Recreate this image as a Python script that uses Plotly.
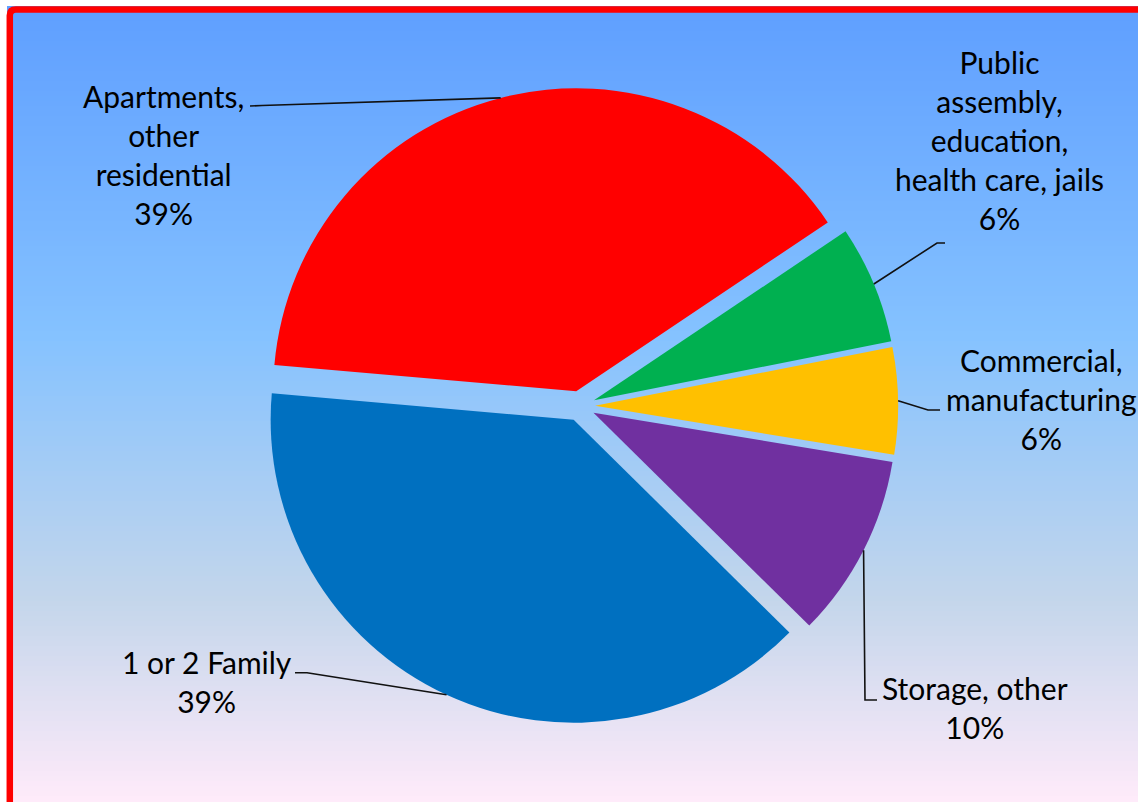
import math
import plotly.graph_objects as go

# ---------------- data ----------------
categories = [
    "Apartments, other residential",
    "Public assembly, education, health care, jails",
    "Commercial, manufacturing",
    "Storage, other",
    "1 or 2 Family",
]
label_texts = [
    "Apartments,<br>other<br>residential",
    "Public<br>assembly,<br>education,<br>health care, jails",
    "Commercial,<br>manufacturing",
    "Storage, other",
    "1 or 2 Family",
]
values = [39.2, 6.3, 5.7, 9.8, 39.0]
colors = ["#FF0000", "#00B050", "#FFC000", "#7030A0", "#0070C0"]

# ---------------- layout parameters (pixels) ----------------
W, H = 1138, 802
CX, CY, R, PULL = 580, 406, 303, 0.05
ROTATION = -85
FONT = "Lato"
FS = 30

# label block centres and leader elbows (elbow, end near text)
label_centres = [(164, 154), (999, 139.5), (1041, 398.5), (975, 707.5), (207, 681)]
leader_elbows = [
    ((262, 105.5), (250, 106)),
    ((937, 243), (945, 243)),
    ((928, 410), (940, 410)),
    ((865, 700), (877, 700)),
    ((307, 672.7), (295, 672.7)),
]

# gradient stops (fraction of height, rgb)
grad_stops = [
    (0.00, (94, 158, 255)),
    (0.42, (133, 194, 255)),
    (0.75, (196, 214, 235)),
    (1.00, (255, 235, 250)),
]


def px(x):
    return x / W


def py(y):
    return 1 - y / H


def grad_color(t):
    for (t0, c0), (t1, c1) in zip(grad_stops[:-1], grad_stops[1:]):
        if t <= t1:
            f = (t - t0) / (t1 - t0) if t1 > t0 else 0
            c = [round(a + (b - a) * f) for a, b in zip(c0, c1)]
            return "rgb(%d,%d,%d)" % tuple(c)
    return "rgb(%d,%d,%d)" % grad_stops[-1][1]


total = sum(values)
pct_labels = [f"{round(v / total * 100)}%" for v in values]

side = 2 * R * (1 + PULL)
domain_x = [px(CX - side / 2), px(CX + side / 2)]
domain_y = [py(CY + side / 2), py(CY - side / 2)]

fig = go.Figure(
    go.Pie(
        labels=categories,
        values=values,
        sort=False,
        direction="clockwise",
        rotation=ROTATION,
        pull=[PULL] * len(values),
        marker=dict(colors=colors, line=dict(width=0)),
        textinfo="none",
        hoverinfo="label+percent",
        showlegend=False,
        domain=dict(x=domain_x, y=domain_y),
    )
)

shapes = []
# background gradient strips
top, bottom, left = 6, 806, 7
n = 160
step = (bottom - top) / n
for i in range(n):
    y0 = top + i * step
    y1 = y0 + step + 1
    t = (y0 + step / 2) / H
    shapes.append(
        dict(
            type="rect", xref="paper", yref="paper", layer="below",
            x0=px(left), x1=px(W + 5), y0=py(min(y1, 810)), y1=py(y0),
            fillcolor=grad_color(min(t, 1)), line=dict(width=0),
        )
    )

# red frame with rounded top-left corner
fx0, fy0, fx1, fy1, rc = 9.8, 9.6, W + 10, 807, 6
frame_path = (
    f"M {px(fx0)},{py(fy1)} L {px(fx0)},{py(fy0 + rc)} "
    f"Q {px(fx0)},{py(fy0)} {px(fx0 + rc)},{py(fy0)} "
    f"L {px(fx1)},{py(fy0)} L {px(fx1)},{py(fy1)} Z"
)
shapes.append(
    dict(
        type="path", xref="paper", yref="paper", layer="above", path=frame_path,
        fillcolor="rgba(0,0,0,0)", line=dict(color="#FF0000", width=6.5),
    )
)

# leader lines from slice mid-angle on the outer arc
annotations = []
cum = 0
for i, v in enumerate(values):
    theta = math.radians(ROTATION + 360 * (cum + v / 2) / total)
    cum += v
    ax = CX + (1 + PULL) * R * math.sin(theta)
    ay = CY - (1 + PULL) * R * math.cos(theta)
    (ex, ey), (tx, ty) = leader_elbows[i]
    path = f"M {px(ax)},{py(ay)} L {px(ex)},{py(ey)} L {px(tx)},{py(ty)}"
    shapes.append(
        dict(type="path", xref="paper", yref="paper", path=path,
             line=dict(color="#111111", width=1.6), layer="above")
    )
    lx, ly = label_centres[i]
    annotations.append(
        dict(
            text=f"{label_texts[i]}<br>{pct_labels[i]}",
            x=px(lx), y=py(ly), xref="paper", yref="paper",
            xanchor="center", yanchor="middle", align="center",
            showarrow=False, font=dict(family=FONT, size=FS, color="#000000"),
        )
    )

fig.update_layout(
    width=W, height=H,
    margin=dict(l=0, r=0, t=0, b=0),
    paper_bgcolor="#FFFFFF",
    plot_bgcolor="#FFFFFF",
    shapes=shapes,
    annotations=annotations,
    font=dict(family=FONT),
)

fig.write_html(
    "out.html",
    config={"displayModeBar": False},
    post_script="document.body.style.margin='0px';document.body.style.overflow='hidden';",
)
